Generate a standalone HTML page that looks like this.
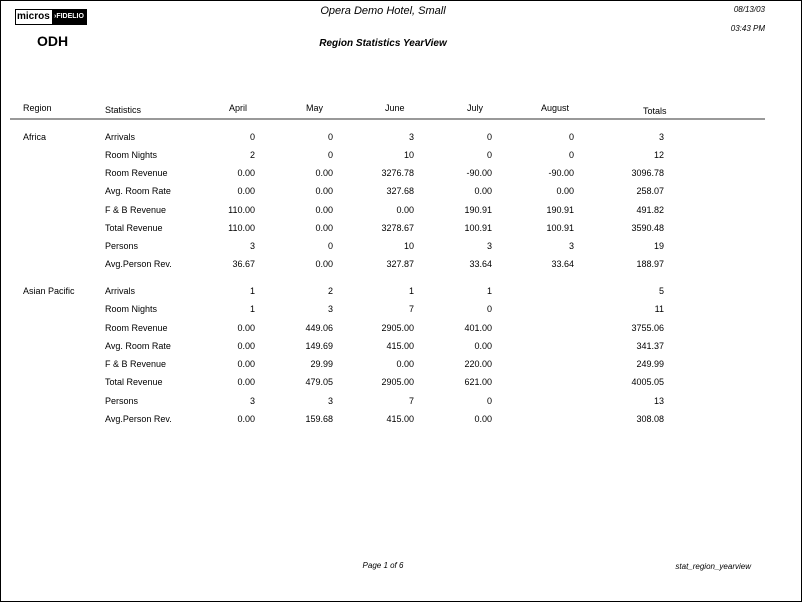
<!DOCTYPE html><html><head><style>
body{margin:0;width:802px;height:602px;background:#fff;position:relative;overflow:hidden;font-family:"Liberation Sans",Arial,sans-serif;color:#000}
.f{position:absolute;left:0;top:0;width:800px;height:600px;border:1px solid #000}
.t{position:absolute;font-size:9px;line-height:10px;white-space:nowrap}
.r{position:absolute;font-size:9px;line-height:10px;white-space:nowrap;text-align:right;width:60px}
.c{position:absolute;text-align:center;white-space:nowrap}
</style></head><body><div class="f"></div>
<div style="position:absolute;left:15px;top:9px;width:70px;height:14px;border:1px solid #000;"></div>
<div class="t" style="left:17px;top:11px;font-size:10px;line-height:11px;font-weight:bold;">micros</div>
<div style="position:absolute;left:52px;top:10px;width:34px;height:14px;background:#000;color:#fff;font-size:7px;line-height:14px;font-weight:bold;padding-left:2px;box-sizing:border-box">›FIDELIO</div>
<div class="t" style="left:37px;top:33px;font-size:14px;line-height:16px;font-weight:bold">ODH</div>
<div class="c" style="left:283px;width:200px;top:5px;font-size:11px;font-style:italic">Opera Demo Hotel, Small</div>
<div class="c" style="left:283px;width:200px;top:38px;font-size:10px;font-style:italic;font-weight:bold">Region Statistics YearView</div>
<div class="r" style="left:705px;top:5px;font-size:8px;font-style:italic">08/13/03</div>
<div class="r" style="left:705px;top:24px;font-size:8px;font-style:italic">03:43 PM</div>
<div class="t" style="left:23px;top:103px">Region</div>
<div class="t" style="left:105px;top:105px">Statistics</div>
<div class="t" style="left:229px;top:103px">April</div>
<div class="t" style="left:306px;top:103px">May</div>
<div class="t" style="left:385px;top:103px">June</div>
<div class="t" style="left:467px;top:103px">July</div>
<div class="t" style="left:541px;top:103px">August</div>
<div class="t" style="left:643px;top:106px">Totals</div>
<div style="position:absolute;left:10px;top:118px;width:755px;height:2px;background:#999"></div>
<div id="rows"></div>
<div class="c" style="left:283px;width:200px;top:561px;font-size:8px;font-style:italic">Page 1 of 6</div>
<div class="r" style="left:651px;width:100px;top:562px;font-size:8px;font-style:italic">stat_region_yearview</div>
<script>
var labels=["Arrivals","Room Nights","Room Revenue","Avg. Room Rate","F & B Revenue","Total Revenue","Persons","Avg.Person Rev."];
var A=[["0","0","3","0","0","3"],["2","0","10","0","0","12"],["0.00","0.00","3276.78","-90.00","-90.00","3096.78"],["0.00","0.00","327.68","0.00","0.00","258.07"],["110.00","0.00","0.00","190.91","190.91","491.82"],["110.00","0.00","3278.67","100.91","100.91","3590.48"],["3","0","10","3","3","19"],["36.67","0.00","327.87","33.64","33.64","188.97"]];
var B=[["1","2","1","1","","5"],["1","3","7","0","","11"],["0.00","449.06","2905.00","401.00","","3755.06"],["0.00","149.69","415.00","0.00","","341.37"],["0.00","29.99","0.00","220.00","","249.99"],["0.00","479.05","2905.00","621.00","","4005.05"],["3","3","7","0","","13"],["0.00","159.68","415.00","0.00","","308.08"]];
var R=[255,333,414,492,574,664],h="";
function blk(name,data,ys){h+='<div class="t" style="left:23px;top:'+(ys[0]-5)+'px">'+name+'</div>';
for(var i=0;i<8;i++){var y=ys[i]-5;h+='<div class="t" style="left:105px;top:'+y+'px">'+labels[i]+'</div>';
for(var j=0;j<6;j++)if(data[i][j])h+='<div class="r" style="left:'+(R[j]-60)+'px;top:'+y+'px">'+data[i][j]+'</div>';}}
blk("Africa",A,[137,155,173,191,210,228,246,264]);
blk("Asian Pacific",B,[291,309,328,346,364,382,401,419]);
document.getElementById("rows").innerHTML=h;
</script></body></html>
